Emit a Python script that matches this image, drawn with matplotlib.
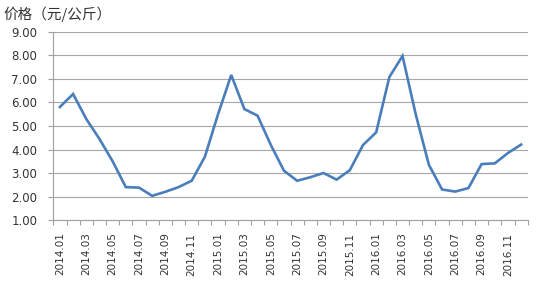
import matplotlib
matplotlib.use("Agg")
import matplotlib.pyplot as plt
import numpy as np

# ====================== Data ======================
months = [f"{y}.{m:02d}" for y in (2014, 2015, 2016) for m in range(1, 13)]
prices = [5.81, 6.36, 5.30, 4.45, 3.50, 2.40, 2.38, 2.03, 2.20, 2.40, 2.67, 3.69,
          5.50, 7.17, 5.72, 5.44, 4.20, 3.10, 2.67, 2.82, 3.00, 2.72, 3.12, 4.19,
          4.73, 7.08, 7.98, 5.50, 3.35, 2.30, 2.21, 2.36, 3.38, 3.41, 3.85, 4.21]
y_ticks = [1, 2, 3, 4, 5, 6, 7, 8, 9]
y_label = "价格（元/公斤）"

# ====================== Plot ======================
plt.rcParams['font.family'] = ['DejaVu Sans']
fig = plt.figure(figsize=(5.37, 2.88), dpi=100)
ax = fig.add_axes([0.0993, 0.236, 0.8834, 0.653])

x = np.arange(len(months))
ax.plot(x, prices, color="#4a7ebb", linewidth=1.9, solid_joinstyle="miter")

ax.set_xlim(-0.5, len(months) - 0.5)
ax.set_ylim(1, 9)
ax.set_yticks(y_ticks)
ax.set_yticklabels([f"{v:.2f}" for v in y_ticks], fontsize=8.5, color="#333333")

# boundary ticks (marks only) and labels every other month
ax.set_xticks(np.arange(-0.5, len(months)), minor=False)
ax.set_xticklabels([])
ax.set_xticks(x[::2], minor=True)
ax.set_xticklabels(months[::2], minor=True, rotation=90, fontsize=7.5, color="#333333")
ax.tick_params(axis="x", which="major", length=3.5, color="#a0a0a0", width=0.8)
ax.tick_params(axis="x", which="minor", length=0, pad=9)
ax.tick_params(axis="y", length=3.6, color="#a0a0a0", width=0.8, pad=8)

ax.grid(axis="y", color="#a6a6a6", linewidth=0.8)
ax.set_axisbelow(True)
for s in ["top", "right"]:
    ax.spines[s].set_visible(False)
for s in ["left", "bottom"]:
    ax.spines[s].set_color("#a0a0a0")
    ax.spines[s].set_linewidth(0.8)

fig.text(0.006, 0.951, y_label, fontsize=10.5, va="center", ha="left",
         family=["Noto Sans CJK SC", "DejaVu Sans"], color="#333333")

fig.savefig("out.png", dpi=100)
